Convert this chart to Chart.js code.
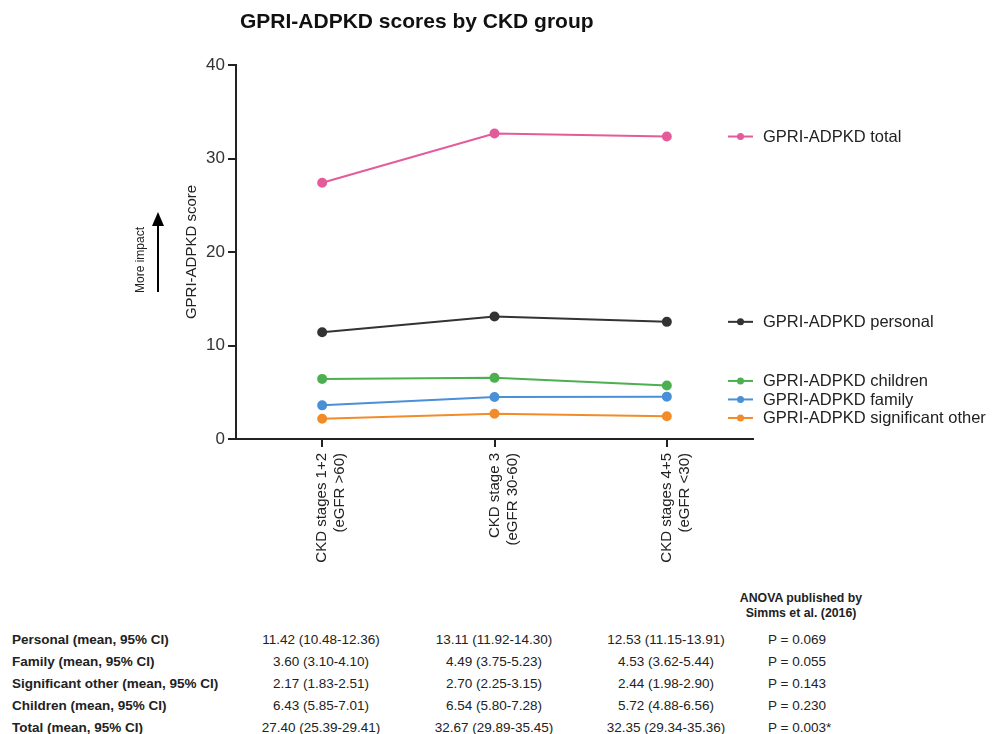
<!DOCTYPE html>
<html>
<head>
<meta charset="utf-8">
<script src="https://cdn.jsdelivr.net/npm/chart.js@4.4.1/dist/chart.umd.min.js"></script>
<style>
  body { margin: 0; background: #fff; font-family: "Liberation Sans", Arial, sans-serif; color: #222; }
  #wrap { position: relative; width: 992px; height: 734px; }
  #chartBox { position: absolute; left: 0; top: 0; width: 992px; height: 580px; }
  #title { position: absolute; left: 240px; top: 9px; font-size: 21px; font-weight: bold; color: #111; }
  .cell { position: absolute; font-size: 13.5px; white-space: nowrap; transform: translateY(-50%); }
  .lbl { left: 12px; font-weight: bold; }
  .num { transform: translate(-50%, -50%); }
  .hdr { position: absolute; left: 801px; transform: translateX(-50%); font-size: 12.3px; font-weight: bold; text-align: center; line-height: 15px; top: 591px; }
</style>
</head>
<body>
<div id="wrap">
  <div id="chartBox"><canvas id="myChart"></canvas></div>
  <div id="title">GPRI-ADPKD scores by CKD group</div>
  <div class="hdr">ANOVA published by<br>Simms et al. (2016)</div>
  <div id="table"></div>
</div>
<script>
'use strict';

// categories on the x axis
let groups = [
  ['CKD stages 1+2', '(eGFR >60)'],
  ['CKD stage 3', '(eGFR 30-60)'],
  ['CKD stages 4+5', '(eGFR <30)']
];
let yTicks = [0, 10, 20, 30, 40];

// mean scores per group (from the table)
let totalScores = [27.40, 32.67, 32.35];
let personalScores = [11.42, 13.11, 12.53];
let childrenScores = [6.43, 6.54, 5.72];
let familyScores = [3.60, 4.49, 4.53];
let sigOtherScores = [2.17, 2.70, 2.44];

// table rows under the chart
let rowNames = [
  'Personal (mean, 95% CI)',
  'Family (mean, 95% CI)',
  'Significant other (mean, 95% CI)',
  'Children (mean, 95% CI)',
  'Total (mean, 95% CI)'
];
let rowCI = [
  ['11.42 (10.48-12.36)', '13.11 (11.92-14.30)', '12.53 (11.15-13.91)'],
  ['3.60 (3.10-4.10)', '4.49 (3.75-5.23)', '4.53 (3.62-5.44)'],
  ['2.17 (1.83-2.51)', '2.70 (2.25-3.15)', '2.44 (1.98-2.90)'],
  ['6.43 (5.85-7.01)', '6.54 (5.80-7.28)', '5.72 (4.88-6.56)'],
  ['27.40 (25.39-29.41)', '32.67 (29.89-35.45)', '32.35 (29.34-35.36)']
];
let pValues = ['P = 0.069', 'P = 0.055', 'P = 0.143', 'P = 0.230', 'P = 0.003*'];

let seriesList = [
  { label: 'GPRI-ADPKD total', data: totalScores, color: '#e45b9b' },
  { label: 'GPRI-ADPKD personal', data: personalScores, color: '#333333' },
  { label: 'GPRI-ADPKD children', data: childrenScores, color: '#4caf50' },
  { label: 'GPRI-ADPKD family', data: familyScores, color: '#4a90d9' },
  { label: 'GPRI-ADPKD significant other', data: sigOtherScores, color: '#f28c28' }
];

let font = '"Liberation Sans", Arial, sans-serif';

// labels at the right end of each line, pushed apart when they crowd
let endLabels = {
  id: 'endLabels',
  afterDraw(chart) {
    let ctx = chart.ctx;
    let yScale = chart.scales.y;
    let items = seriesList.map(s => ({ s: s, y: yScale.getPixelForValue(s.data[s.data.length - 1]) }));
    items.sort((a, b) => a.y - b.y);
    let gap = 18.5;
    // simple grouping repel
    let groupsY = items.map(it => ({ members: [it], center: it.y }));
    let moved = true;
    while (moved) {
      moved = false;
      for (let i = 0; i < groupsY.length - 1; i++) {
        let a = groupsY[i], b = groupsY[i + 1];
        let aBottom = a.center + (a.members.length - 1) * gap / 2;
        let bTop = b.center - (b.members.length - 1) * gap / 2;
        if (bTop - aBottom < gap) {
          let all = a.members.concat(b.members);
          let mean = all.reduce((t, m) => t + m.y, 0) / all.length;
          groupsY.splice(i, 2, { members: all, center: mean });
          moved = true;
          break;
        }
      }
    }
    let left = chart.chartArea.right - 25;
    ctx.save();
    groupsY.forEach(g => {
      g.members.forEach((m, k) => {
        let y = g.center + (k - (g.members.length - 1) / 2) * gap;
        ctx.strokeStyle = m.s.color;
        ctx.fillStyle = m.s.color;
        ctx.lineWidth = 2;
        ctx.beginPath();
        ctx.moveTo(left, y);
        ctx.lineTo(left + 25, y);
        ctx.stroke();
        ctx.beginPath();
        ctx.arc(left + 12.5, y, 3.5, 0, Math.PI * 2);
        ctx.fill();
        ctx.fillStyle = '#222';
        ctx.font = '16.5px ' + font;
        ctx.textBaseline = 'middle';
        ctx.textAlign = 'left';
        ctx.fillText(m.s.label, left + 35, y + 1);
      });
    });
    ctx.restore();
  }
};

// y axis title and the "More impact" arrow
let yTitles = {
  id: 'yTitles',
  afterDraw(chart) {
    let ctx = chart.ctx;
    let area = chart.chartArea;
    let midY = (area.top + area.bottom) / 2;
    ctx.save();
    ctx.fillStyle = '#222';
    ctx.textAlign = 'center';
    ctx.textBaseline = 'middle';
    ctx.translate(192, midY);
    ctx.rotate(-Math.PI / 2);
    ctx.font = '15px ' + font;
    ctx.fillText('GPRI-ADPKD score', 0, 0);
    ctx.restore();

    ctx.save();
    ctx.fillStyle = '#222';
    ctx.textAlign = 'center';
    ctx.textBaseline = 'middle';
    ctx.translate(141, midY + 8);
    ctx.rotate(-Math.PI / 2);
    ctx.font = '12px ' + font;
    ctx.fillText('More impact', 0, 0);
    ctx.restore();

    ctx.save();
    ctx.strokeStyle = '#000';
    ctx.fillStyle = '#000';
    ctx.lineWidth = 2;
    ctx.beginPath();
    ctx.moveTo(158, midY + 40);
    ctx.lineTo(158, midY - 28);
    ctx.stroke();
    ctx.beginPath();
    ctx.moveTo(158, midY - 40);
    ctx.lineTo(152, midY - 26);
    ctx.lineTo(164, midY - 26);
    ctx.closePath();
    ctx.fill();
    ctx.restore();
  }
};

const ctx = document.getElementById('myChart');

new Chart(ctx, {
  type: 'line',
  data: {
    labels: groups,
    datasets: seriesList.map(s => ({
      label: s.label,
      data: s.data,
      borderColor: s.color,
      backgroundColor: s.color,
      borderWidth: 2,
      pointRadius: 4,
      pointHoverRadius: 4,
      tension: 0
    }))
  },
  options: {
    responsive: true,
    maintainAspectRatio: false,
    animation: false,
    layout: { padding: { top: 65, right: 239, left: 0, bottom: 0 } },
    plugins: {
      legend: { display: false },
      tooltip: { enabled: false }
    },
    scales: {
      x: {
        offset: true,
        afterFit: scale => { scale.height = 141; },
        grid: { drawOnChartArea: false, drawTicks: true, tickLength: 8, color: '#222', lineWidth: 2 },
        border: { color: '#222', width: 2 },
        ticks: {
          minRotation: 90,
          maxRotation: 90,
          padding: 6,
          color: '#222',
          font: { family: font, size: 15 }
        }
      },
      y: {
        min: 0,
        max: 40,
        afterFit: scale => { scale.width = 236; },
        afterBuildTicks: scale => { scale.ticks = yTicks.map(v => ({ value: v })); },
        grid: { drawOnChartArea: false, drawTicks: true, tickLength: 8, color: '#222', lineWidth: 2 },
        border: { color: '#222', width: 2 },
        ticks: {
          padding: 3,
          color: '#333',
          font: { family: font, size: 17 }
        }
      }
    }
  },
  plugins: [endLabels, yTitles]
});

// build the table
let table = document.getElementById('table');
let colX = [321, 494, 666];
let rowY = [639, 661, 683, 705, 727];
for (let i = 0; i < rowNames.length; i++) {
  let d = document.createElement('div');
  d.className = 'cell lbl';
  d.style.top = rowY[i] + 'px';
  d.textContent = rowNames[i];
  table.appendChild(d);
  for (let j = 0; j < 3; j++) {
    let c = document.createElement('div');
    c.className = 'cell num';
    c.style.left = colX[j] + 'px';
    c.style.top = rowY[i] + 'px';
    c.textContent = rowCI[i][j];
    table.appendChild(c);
  }
  let p = document.createElement('div');
  p.className = 'cell';
  p.style.left = '768px';
  p.style.top = rowY[i] + 'px';
  p.textContent = pValues[i];
  table.appendChild(p);
}
</script>
</body>
</html>
